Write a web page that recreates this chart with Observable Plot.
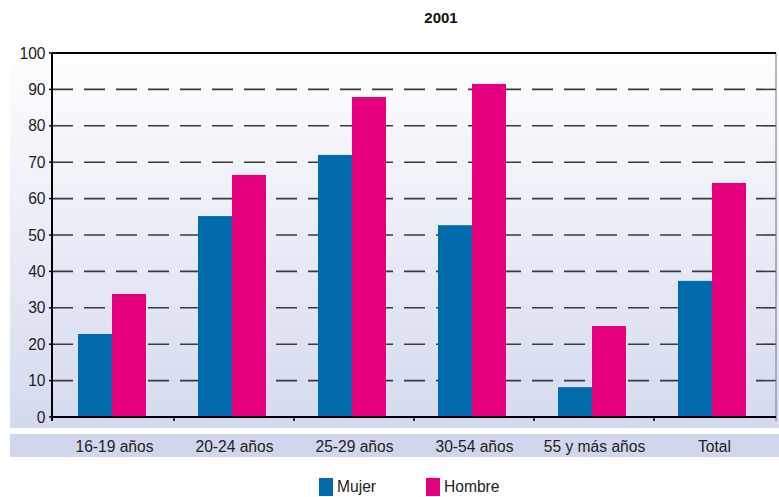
<!DOCTYPE html>
<html>
<head>
<meta charset="utf-8">
<script src="https://cdn.jsdelivr.net/npm/d3@7"></script>
<script src="https://cdn.jsdelivr.net/npm/@observablehq/plot@0.6"></script>
<style>
  html, body { margin: 0; padding: 0; background: #ffffff; }
  #chart svg { display: block; }
</style>
</head>
<body>
<div id="chart"></div>
<script>
const title = "2001";
const categories = ["16-19 años", "20-24 años", "25-29 años", "30-54 años", "55 y más años", "Total"];
const seriesNames = ["Mujer", "Hombre"];
const mujer = [22.8, 55.2, 72.0, 52.7, 8.2, 37.4];
const hombre = [33.8, 66.5, 87.9, 91.5, 25.0, 64.3];
const yTicks = [0, 10, 20, 30, 40, 50, 60, 70, 80, 90, 100];
const colors = ["#006aaa", "#e4007c"];

const data = [];
categories.forEach((c, i) => {
  data.push({cat: c, sex: "Mujer", value: mujer[i]});
  data.push({cat: c, sex: "Hombre", value: hombre[i]});
});

const W = 779, H = 497;
const FONT = "'Liberation Sans', Arial, sans-serif";
const plot = Plot.plot({
  width: W,
  height: H,
  marginLeft: 52,
  marginRight: 3,
  marginTop: 53,
  marginBottom: 80,
  style: {fontFamily: FONT, fontSize: "15.6px", color: "#222", background: "transparent"},
  fx: {domain: categories, padding: 0, label: null},
  x: {domain: seriesNames, paddingInner: 0, paddingOuter: 0.72, align: 0.46, axis: null},
  y: {domain: [0, 100], label: null},
  color: {domain: seriesNames, range: colors},
  marks: [
    Plot.axisFx({anchor: "bottom", tickSize: 0, tickPadding: 23, fontSize: 15.6, label: null}),
    Plot.axisY(yTicks, {anchor: "left", tickSize: 0, tickPadding: 9, fontSize: 15.6, label: null}),
    Plot.barY(data, {fx: "cat", x: "sex", y: "value", fill: "sex"})
  ]
});

const svg = d3.select(plot);
const y = plot.scale("y");
const fx = plot.scale("fx");
const color = plot.scale("color");
const x0 = 52, x1 = W - 3;
const yTop = y.apply(100), yBot = y.apply(0);

// background layer inserted before the marks
const defs = svg.insert("defs", ":first-child");
const grad = defs.append("linearGradient").attr("id", "bgGrad").attr("x1", 0).attr("y1", 0).attr("x2", 0).attr("y2", 1);
grad.append("stop").attr("offset", "0%").attr("stop-color", "#ffffff");
grad.append("stop").attr("offset", "100%").attr("stop-color", "#d4daee");

const bg = svg.insert("g", "g");
bg.append("rect").attr("x", 10).attr("y", 40).attr("width", W - 10).attr("height", 388).attr("fill", "url(#bgGrad)");
bg.append("rect").attr("x", 10).attr("y", 434).attr("width", W - 10).attr("height", 23).attr("fill", "#d0d7ec");
// dashed grid
yTicks.filter(t => t > 0 && t < 100).forEach(t => {
  bg.append("line").attr("x1", x0).attr("x2", x1).attr("y1", y.apply(t)).attr("y2", y.apply(t))
    .attr("stroke", "#3a3a3a").attr("stroke-width", 1.6).attr("stroke-dasharray", "21,11");
});

// frame on top
const fr = svg.append("g");
fr.append("line").attr("x1", x1).attr("x2", x1).attr("y1", yTop).attr("y2", yBot + 4).attr("stroke", "#777").attr("stroke-width", 1);
fr.append("line").attr("x1", x0).attr("x2", x1).attr("y1", yTop).attr("y2", yTop).attr("stroke", "#000").attr("stroke-width", 2);
fr.append("line").attr("x1", x0).attr("x2", x1).attr("y1", yBot).attr("y2", yBot).attr("stroke", "#000").attr("stroke-width", 2);
fr.append("line").attr("x1", x0).attr("x2", x0).attr("y1", yTop).attr("y2", yBot + 4).attr("stroke", "#000").attr("stroke-width", 2);
yTicks.forEach(t => {
  fr.append("line").attr("x1", x0 - 3).attr("x2", x0).attr("y1", y.apply(t)).attr("y2", y.apply(t)).attr("stroke", "#000").attr("stroke-width", 1.5);
});
categories.slice(1).forEach(c => {
  const xx = fx.apply(c);
  fr.append("line").attr("x1", xx).attr("x2", xx).attr("y1", yBot).attr("y2", yBot + 4).attr("stroke", "#000").attr("stroke-width", 1.5);
});

// title
svg.append("text").attr("x", 441).attr("y", 23).attr("text-anchor", "middle")
  .attr("font-family", FONT).attr("font-weight", "bold").attr("font-size", 15).attr("fill", "#111").text(title);

// legend
const legendX = [319, 426];
seriesNames.forEach((s, i) => {
  svg.append("rect").attr("x", legendX[i]).attr("y", 478).attr("width", 14).attr("height", 18).attr("fill", color.apply(s));
  svg.append("text").attr("x", legendX[i] + 18).attr("y", 492).attr("text-anchor", "start")
    .attr("font-family", FONT).attr("font-size", 15.6).attr("fill", "#222").text(s);
});

document.getElementById("chart").appendChild(plot);
</script>
</body>
</html>
